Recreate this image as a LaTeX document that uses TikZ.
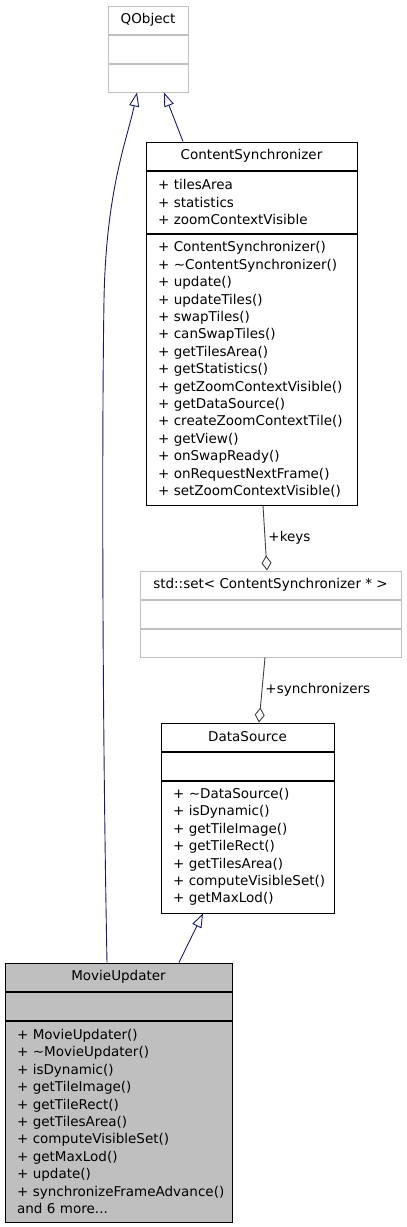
\documentclass[tikz,border=0pt]{standalone}
\usepackage{fontspec}
\setmainfont{DejaVu Sans}
\usepackage{tikz}
\usetikzlibrary{arrows.meta,positioning}

\definecolor{inhblue}{HTML}{191970}
\definecolor{aggray}{HTML}{404040}
\definecolor{ltgray}{HTML}{BFBFBF}

\begin{document}
\hyphenpenalty=10000
\exhyphenpenalty=10000
\begin{tikzpicture}[
    x=1pt,y=-1pt,
    font=\fontsize{13.5}{17.4}\selectfont,
    hdr/.style={draw=#1,fill=white,line width=1pt,inner sep=0pt,
                minimum height=28pt},
    memb/.style={draw=#1,fill=white,line width=1pt,inner ysep=0pt,
                 inner xsep=12pt,align=left},
    inh/.style={-{Triangle[open,length=14pt,width=10pt]},line width=0.9pt,
                inhblue},
    agg/.style={-{Diamond[open,length=15pt,width=10pt]},line width=0.9pt,
                aggray},
    lbl/.style={text=black,inner sep=3pt},
]
\useasboundingbox (0,0) rectangle (407,1227);

% QObject
\node[hdr=ltgray,minimum width=80pt] (qo) at (148,20) {QObject};
\node[hdr=ltgray,minimum width=80pt,below=0pt of qo] (qo_a) {};
\node[hdr=ltgray,minimum width=80pt,below=0pt of qo_a] (qo_m) {};

% ContentSynchronizer
\node[hdr=black,minimum width=211pt] (cs) at (251.5,156) {ContentSynchronizer};
\node[memb=black,text width=187pt,minimum height=62pt,below=0pt of cs] (cs_a)
  {+~tilesArea\\+~statistics\\+~zoomContextVisible};
\node[memb=black,text width=187pt,minimum height=271pt,below=0pt of cs_a] (cs_m)
  {+~ContentSynchronizer()\\+~\textasciitilde ContentSynchronizer()\\+~update()\\
   +~updateTiles()\\+~swapTiles()\\+~canSwapTiles()\\+~getTilesArea()\\
   +~getStatistics()\\+~getZoomContextVisible()\\+~getDataSource()\\
   +~createZoomContextTile()\\+~getView()\\+~onSwapReady()\\
   +~onRequestNextFrame()\\+~setZoomContextVisible()};

% std::set
\node[hdr=ltgray,minimum width=261pt] (set) at (270.5,585)
  {std::set< ContentSynchronizer * >};
\node[hdr=ltgray,minimum width=261pt,below=0pt of set] (set_a) {};
\node[hdr=ltgray,minimum width=261pt,below=0pt of set_a] (set_m) {};

% DataSource
\node[hdr=black,minimum width=173pt] (ds) at (247.5,737) {DataSource};
\node[hdr=black,minimum width=173pt,below=0pt of ds] (ds_a) {};
\node[memb=black,text width=149pt,minimum height=132pt,below=0pt of ds_a] (ds_m)
  {+~\textasciitilde DataSource()\\+~isDynamic()\\+~getTileImage()\\
   +~getTileRect()\\+~getTilesArea()\\+~computeVisibleSet()\\+~getMaxLod()};

% MovieUpdater
\node[hdr=black,fill=ltgray,minimum width=227pt] (mu) at (118.5,977) {MovieUpdater};
\node[hdr=black,fill=ltgray,minimum width=227pt,below=0pt of mu] (mu_a) {};
\node[memb=black,fill=ltgray,text width=203pt,minimum height=201pt,
      below=0pt of mu_a] (mu_m)
  {+~MovieUpdater()\\+~\textasciitilde MovieUpdater()\\+~isDynamic()\\
   +~getTileImage()\\+~getTileRect()\\+~getTilesArea()\\
   +~computeVisibleSet()\\+~getMaxLod()\\+~update()\\
   +~synchronizeFrameAdvance()\\and 6 more...};

% inheritance
\draw[inh] ([xshift=-68.5pt]cs.north) -- ([xshift=16pt]qo_m.south);
\draw[inh] ([xshift=60.5pt]mu.north) -- ([xshift=-44.5pt]ds_m.south);
\draw[inh] ([xshift=-11.5pt]mu.north) .. controls (102,700) and (102,420)
  .. (104,300) .. controls (106,190) and (127,140) .. ([xshift=-11pt]qo_m.south);

% aggregation
\draw[agg] ([xshift=11.5pt]cs_m.south) -- ([xshift=-3.5pt]set.north)
  node[midway,right,lbl] (keys) {+keys};
\draw[agg] ([xshift=-5.5pt]set_m.south) -- ([xshift=11.5pt]ds.north)
  node[midway,right,lbl] (syncs) {+synchronizers};

\end{tikzpicture}
\end{document}
